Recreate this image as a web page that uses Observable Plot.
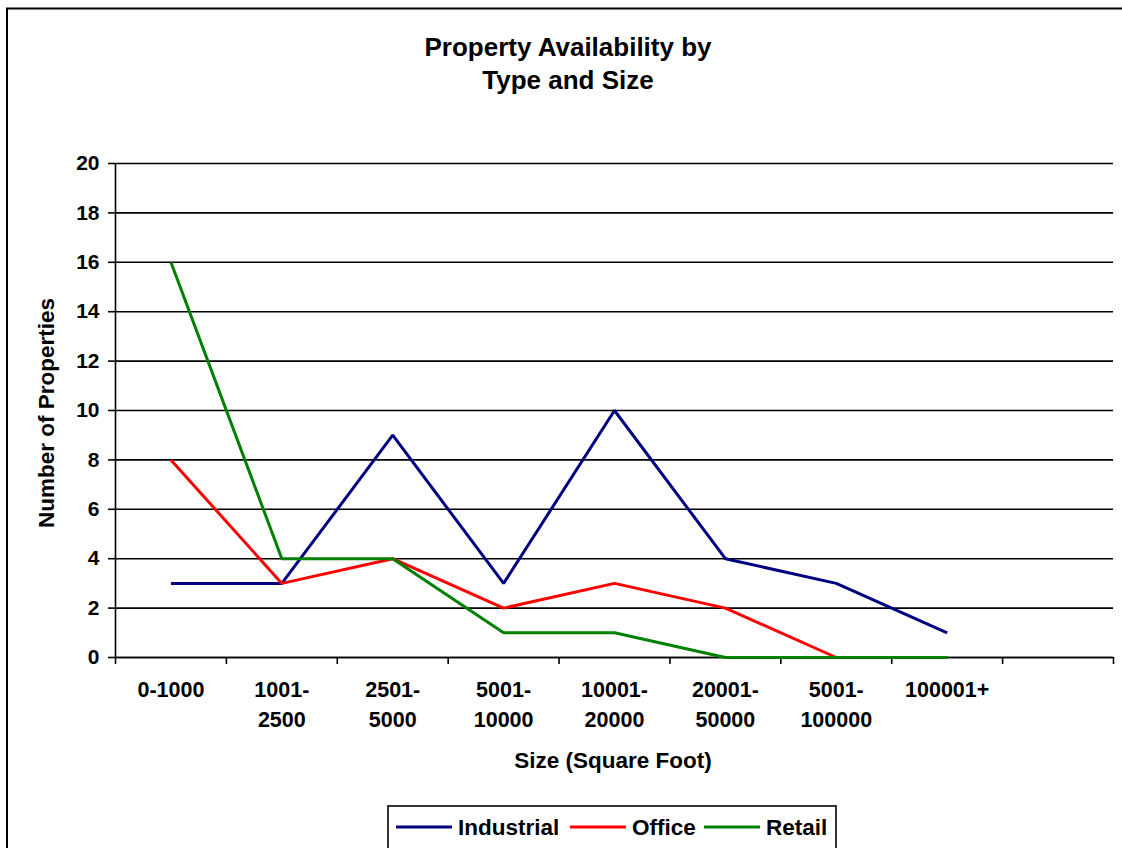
<!DOCTYPE html>
<html><head><meta charset="utf-8">
<script src="https://cdn.jsdelivr.net/npm/d3@7"></script>
<script src="https://cdn.jsdelivr.net/npm/@observablehq/plot@0.6"></script>
<style>body{margin:0;background:#fff}</style>
</head><body><div id="chart"></div>
<script>
const categories = ["0-1000","1001-2500","2501-5000","5001-10000","10001-20000","20001-50000","5001-100000","100001+"];
const seriesNames = ["Industrial","Office","Retail"];
const industrial = [3,3,9,3,10,4,3,1];
const office = [8,3,4,2,3,2,0,0];
const retail = [16,4,4,1,1,0,0,0];
const seriesColors = ["#000080","#FF0000","#008000"];
const yTicks = [0,2,4,6,8,10,12,14,16,18,20];
const slotCount = 9; // axis has one empty slot after the last category
const titleLines = ["Property Availability by","Type and Size"];
const xTitle = "Size (Square Foot)";
const yTitle = "Number of Properties";

const values = [industrial, office, retail];
const rows = seriesNames.flatMap((s, si) => categories.map((c, i) => ({series: s, i, value: values[si][i]})));
const boundaries = d3.range(slotCount + 1).map(k => k - 0.5);
const fmt = s => s.startsWith("0-") || !s.includes("-") ? s : s.replace("-", "-\n");

const W = 1122, H = 848;
const font = "'Liberation Sans', Arial, sans-serif";
const plot = Plot.plot({
  width: W, height: H,
  marginLeft: 115, marginRight: 9, marginTop: 163, marginBottom: 191,
  style: {fontFamily: font, fontSize: "21px", fontWeight: "bold", background: "white", color: "black", overflow: "visible"},
  x: {type: "linear", domain: [-0.5, slotCount - 0.5]},
  y: {domain: [0, 20]},
  color: {domain: seriesNames, range: seriesColors},
  marks: [
    Plot.gridY(yTicks, {stroke: "black", strokeOpacity: 1, strokeWidth: 1.6}),
    Plot.ruleX([-0.5], {stroke: "black", strokeWidth: 1.6}),
    Plot.ruleY([0], {stroke: "black", strokeWidth: 1.6}),
    Plot.axisY({ticks: yTicks, tickSize: 7, tickPadding: 9, label: null, strokeWidth: 1.6, fontSize: 21}),
    Plot.axisX({ticks: boundaries, tickSize: 7, tickFormat: () => "", label: null, strokeWidth: 1.6}),
    Plot.axisX({ticks: d3.range(categories.length), tickSize: 0, tickPadding: 18, tickFormat: i => fmt(categories[i]), lineHeight: 1.4, label: null, fontSize: 21.5}),
    Plot.line(rows, {x: "i", y: "value", z: "series", stroke: "series", strokeWidth: 3, strokeLinejoin: "miter", strokeLinecap: "butt"})
  ]
});
document.getElementById("chart").append(plot);

const svg = d3.select(plot);
const txt = (sel, size) => sel.style("font-size", size + "px").style("font-weight", "bold").style("font-family", font).attr("fill", "black");
svg.append("rect").attr("x", 7).attr("y", 8.5).attr("width", W).attr("height", H)
  .attr("fill", "none").attr("stroke", "black").attr("stroke-width", 2);
txt(svg.append("text").attr("x", 568).attr("y", 56).attr("text-anchor", "middle"), 26)
  .selectAll("tspan").data(titleLines).join("tspan")
  .attr("x", 568).attr("dy", (d, k) => k ? 33 : 0).text(d => d);
txt(svg.append("text").attr("x", 613).attr("y", 768).attr("text-anchor", "middle"), 22.5).text(xTitle);
txt(svg.append("text").attr("transform", "translate(54,413) rotate(-90)").attr("text-anchor", "middle"), 22.5).text(yTitle);

// legend
const lg = svg.append("g");
lg.append("rect").attr("x", 388).attr("y", 806).attr("width", 448).attr("height", 60)
  .attr("fill", "white").attr("stroke", "black").attr("stroke-width", 1.6);
const legendX = [396, 570, 704];
seriesNames.forEach((s, k) => {
  lg.append("line").attr("x1", legendX[k]).attr("x2", legendX[k] + 56).attr("y1", 827).attr("y2", 827)
    .attr("stroke", seriesColors[k]).attr("stroke-width", 3);
  txt(lg.append("text").attr("x", legendX[k] + 62).attr("y", 835).attr("text-anchor", "start"), 22.5).text(s);
});
</script></body></html>
